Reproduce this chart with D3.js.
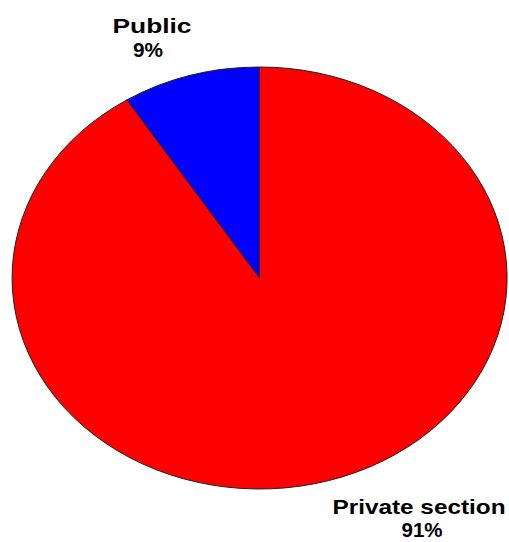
<!doctype html>
<html lang="en">
<head>
<meta charset="utf-8">
<script src="https://cdn.jsdelivr.net/npm/d3@7"></script>
<style>
  body { margin: 0; background: #fff; }
  text { font-family: "Liberation Sans", Arial, sans-serif; font-weight: bold; fill: #000; }
</style>
</head>
<body>
<script>
var categories = ["Public", "Private section"];
var values = [9, 91];
var colors = ["#0000ff", "#ff0000"];

var svgW = 509, svgH = 542;
var cx = 259.5, cy = 278, rx = 247.5, ry = 211;

var svg = d3.select("body").append("svg")
    .attr("width", svgW)
    .attr("height", svgH);

// pie goes counter-clockwise from 12 o'clock, Public first
var pie = d3.pie().sort(null)
    .startAngle(0)
    .endAngle(-2 * Math.PI);
var arcs = pie(values);

var arc = d3.arc().innerRadius(0).outerRadius(1);

var g = svg.append("g")
    .attr("transform", "translate(" + cx + "," + cy + ") scale(" + rx + "," + ry + ")");

g.selectAll("path")
    .data(arcs)
    .enter()
    .append("path")
    .attr("d", arc)
    .attr("fill", (d, i) => colors[i])
    .attr("stroke", "#222")
    .attr("stroke-width", 1)
    .attr("vector-effect", "non-scaling-stroke");

// labels: [x, name baseline, pct baseline, name width, pct width]
var labelPos = [[152, 33, 57, 79, 30], [419, 514, 537, 173, 41]];
var labels = svg.selectAll("g.label")
    .data(arcs)
    .enter()
    .append("g")
    .attr("class", "label");

labels.append("text")
    .attr("x", (d, i) => labelPos[i][0])
    .attr("y", (d, i) => labelPos[i][1])
    .attr("text-anchor", "middle")
    .attr("font-size", 21)
    .attr("textLength", (d, i) => labelPos[i][3])
    .attr("lengthAdjust", "spacingAndGlyphs")
    .text((d, i) => categories[i]);

labels.append("text")
    .attr("x", (d, i) => labelPos[i][0] - (i ? -3 : 4))
    .attr("y", (d, i) => labelPos[i][2])
    .attr("text-anchor", "middle")
    .attr("font-size", 21)
    .attr("textLength", (d, i) => labelPos[i][4])
    .attr("lengthAdjust", "spacingAndGlyphs")
    .text(d => d3.format(".0f")(d.value) + "%");
</script>
</body>
</html>
